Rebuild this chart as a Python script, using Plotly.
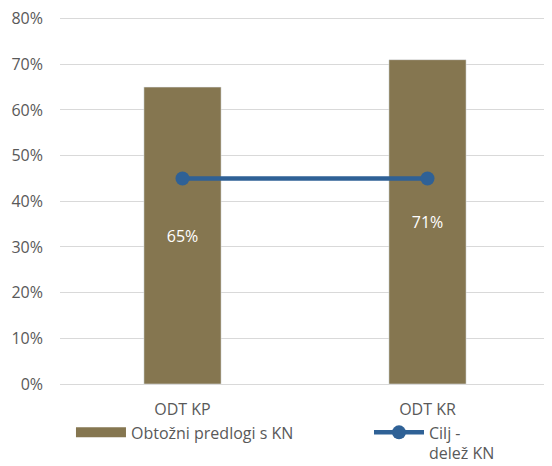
import plotly.graph_objects as go

categories = ["ODT KP", "ODT KR"]
obtozni = [0.65, 0.71]
cilj = [0.45, 0.45]
bar_labels = ["65%", "71%"]

font_family = "Open Sans, sans-serif"
grey = "#595959"
bar_color = "#857650"
line_color = "#2F6196"

fig = go.Figure()
fig.add_trace(go.Bar(
    x=categories, y=obtozni,
    name="Obtožni predlogi s KN",
    marker=dict(color=bar_color),
    width=0.315,
    text=bar_labels, textposition="inside", insidetextanchor="middle",
    textfont=dict(color="white", size=16, family=font_family),
    showlegend=False,
))
# legend proxy so the bar swatch is drawn as a wide flat block
fig.add_trace(go.Scatter(
    x=[None], y=[None], mode="lines",
    name="Obtožni predlogi s KN",
    line=dict(color=bar_color, width=10),
    legend="legend",
))
fig.add_trace(go.Scatter(
    x=categories, y=cilj,
    name="Cilj -<br>delež KN",
    mode="lines+markers",
    line=dict(color=line_color, width=4.5),
    marker=dict(size=14, color=line_color),
    legend="legend2",
))

legend_common = dict(
    orientation="h", xanchor="left", yanchor="top",
    itemwidth=50, font=dict(size=16, color=grey, family=font_family),
    valign="top", bgcolor="rgba(0,0,0,0)",
)

# page body adds an 8px offset, so the figure is sized 8px smaller
fig.update_layout(
    width=544, height=458,
    margin=dict(l=52, r=2, t=6, b=82, autoexpand=False),
    paper_bgcolor="white", plot_bgcolor="white",
    font=dict(family=font_family, size=16, color=grey),
    showlegend=True,
    legend=dict(x=0.0224, y=-0.085, **legend_common),
    legend2=dict(x=0.6306, y=-0.085, **legend_common),
    yaxis=dict(
        range=[0, 0.81], tickvals=[i / 10 for i in range(9)], tickformat=".0%",
        showgrid=True, gridcolor="#D9D9D9", gridwidth=1,
        zeroline=True, zerolinecolor="#D9D9D9", zerolinewidth=1,
        ticks="", ticklabelstandoff=16, ticklabeloverflow="allow",
    ),
    xaxis=dict(showline=False, ticks="", ticklabelstandoff=14),
)

fig.write_html("out.html")
